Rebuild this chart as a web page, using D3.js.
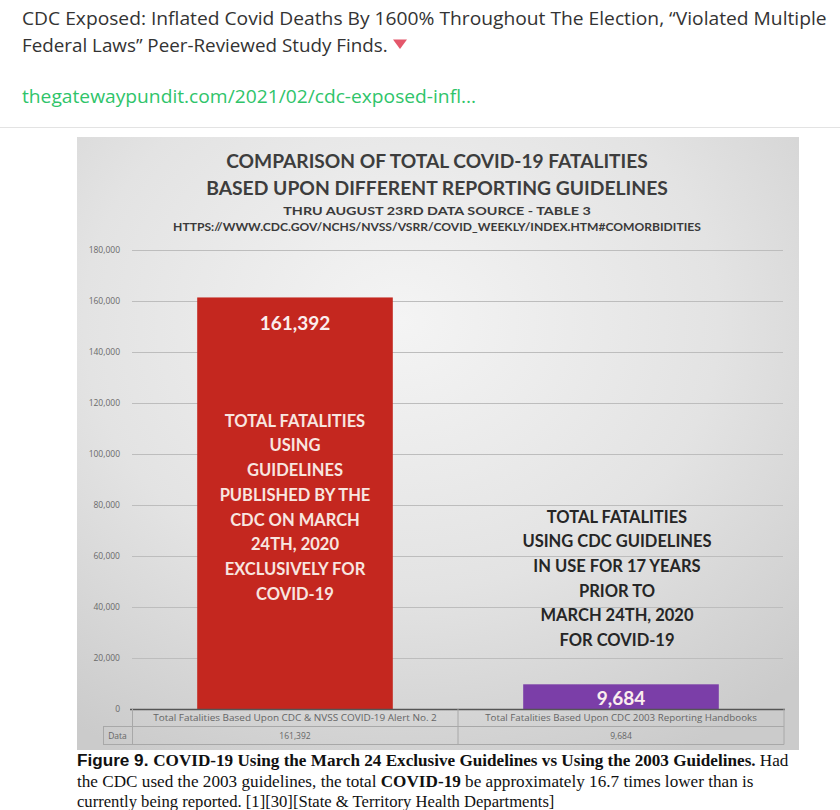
<!DOCTYPE html>
<html><head><meta charset="utf-8">
<script src="https://cdn.jsdelivr.net/npm/d3@7"></script>
<style>
html,body{margin:0;padding:0;background:#fff;}
svg{display:block;}
</style></head>
<body>
<svg id="c" width="840" height="810"></svg>
<script>
// ---- data ----
const postTitle = ["CDC Exposed: Inflated Covid Deaths By 1600% Throughout The Election, \u201CViolated Multiple", "Federal Laws\u201D Peer-Reviewed Study Finds."];
const postLink = "thegatewaypundit.com/2021/02/cdc-exposed-infl...";
const chartTitle = ["COMPARISON OF TOTAL COVID-19 FATALITIES", "BASED UPON DIFFERENT REPORTING GUIDELINES"];
const chartSub = ["THRU AUGUST 23RD DATA SOURCE - TABLE 3", "HTTPS://WWW.CDC.GOV/NCHS/NVSS/VSRR/COVID_WEEKLY/INDEX.HTM#COMORBIDITIES"];
const categories = ["Total Fatalities Based Upon CDC & NVSS COVID-19 Alert No. 2", "Total Fatalities Based Upon CDC 2003 Reporting Handbooks"];
const values = [161392, 9684];
const valueLabels = ["161,392", "9,684"];
const yTicks = [0, 20000, 40000, 60000, 80000, 100000, 120000, 140000, 160000, 180000];
const barColors = ["#c4271f", "#7b3ea8"];
const redNote = ["TOTAL FATALITIES", "USING", "GUIDELINES", "PUBLISHED BY THE", "CDC ON MARCH", "24TH, 2020", "EXCLUSIVELY FOR", "COVID-19"];
const purpleNote = ["TOTAL FATALITIES", "USING CDC GUIDELINES", "IN USE FOR 17 YEARS", "PRIOR TO", "MARCH 24TH, 2020", "FOR COVID-19"];
const tableRowLabel = "Data";

const svg = d3.select("#c");

function fit(sel, width, anchorX) {
  const w = sel.node().getComputedTextLength();
  if (w > 0) {
    const k = width / w;
    sel.attr("transform", `translate(${anchorX},0) scale(${k},1) translate(${-anchorX},0)`);
  }
}

// ---- post header ----
const h1 = svg.append("text").attr("x", 22).attr("y", 25)
  .attr("font-family", "Open Sans").attr("font-size", 17.5).attr("fill", "#333").text(postTitle[0]);
fit(h1, 805, 22);
const h2 = svg.append("text").attr("x", 22).attr("y", 52)
  .attr("font-family", "Open Sans").attr("font-size", 17.5).attr("fill", "#333").text(postTitle[1]);
fit(h2, 366, 22);
svg.append("path").attr("d", "M393,39.5 L407,39.5 L400,49 Z").attr("fill", "#e4576b");
const lk = svg.append("text").attr("x", 22).attr("y", 103)
  .attr("font-family", "Open Sans").attr("font-size", 17.5).attr("fill", "#2fc46a").text(postLink);
fit(lk, 454, 22);
svg.append("line").attr("x1", 0).attr("x2", 840).attr("y1", 127.5).attr("y2", 127.5)
  .attr("stroke", "#e3e3e3");

// ---- chart image background ----
const defs = svg.append("defs");
const rg = defs.append("radialGradient").attr("id", "bg").attr("cx", "45%").attr("cy", "30%").attr("r", "80%");
rg.append("stop").attr("offset", "0%").attr("stop-color", "#f4f4f4");
rg.append("stop").attr("offset", "55%").attr("stop-color", "#e3e3e3");
rg.append("stop").attr("offset", "100%").attr("stop-color", "#cbcbcb");
svg.append("rect").attr("x", 77).attr("y", 137).attr("width", 722).attr("height", 613).attr("fill", "url(#bg)");

// titles
const tf = "Lato";
[[chartTitle[0], 168, 422, 19], [chartTitle[1], 195, 462, 19]].forEach(([t, y, w, fs]) => {
  const s = svg.append("text").attr("x", 437).attr("y", y).attr("text-anchor", "middle")
    .attr("font-family", tf).attr("font-size", fs).attr("font-weight", 700).attr("fill", "#3d3d3d").text(t);
  fit(s, w, 437);
});
[[chartSub[0], 215, 308, 10.5], [chartSub[1], 231, 528, 10.5]].forEach(([t, y, w, fs]) => {
  const s = svg.append("text").attr("x", 437).attr("y", y).attr("text-anchor", "middle")
    .attr("font-family", tf).attr("font-size", fs).attr("font-weight", 700).attr("fill", "#3a3a3a").text(t);
  fit(s, w, 437);
});

// ---- scales ----
const plotL = 132, plotR = 784, plotTop = 250, plotBot = 709;
const y = d3.scaleLinear().domain([0, 180000]).range([plotBot, plotTop]);
const x = d3.scaleBand().domain(categories).range([plotL, plotR]).paddingInner(0.4).paddingOuter(0.2);

// gridlines + tick labels
const ax = svg.append("g").attr("transform", `translate(${plotL},0)`)
  .call(d3.axisLeft(y).tickValues(yTicks).tickFormat(d3.format(",")).tickSizeInner(-(plotR - plotL - 1)).tickSizeOuter(0).tickPadding(12));
ax.select(".domain").remove();
ax.selectAll(".tick line").attr("stroke", "#bdbdbd").attr("stroke-width", 1);
ax.selectAll(".tick text").attr("font-family", "Open Sans").attr("font-size", 8.5).attr("fill", "#6a6a6a");

// bars
svg.append("g").selectAll("rect").data(values).join("rect")
  .attr("x", (d, i) => x(categories[i]))
  .attr("width", x.bandwidth())
  .attr("y", d => y(d))
  .attr("height", d => y(0) - y(d))
  .attr("fill", (d, i) => barColors[i]);

// value labels
svg.append("g").selectAll("text").data(values).join("text")
  .attr("x", (d, i) => x(categories[i]) + x.bandwidth() / 2)
  .attr("y", (d, i) => i === 0 ? y(d) + 33 : y(d) + 21)
  .attr("text-anchor", "middle")
  .attr("font-family", tf).attr("font-weight", 700).attr("font-size", 19).attr("fill", "#fbeeee")
  .text((d, i) => valueLabels[i]);

// notes
const cx0 = x(categories[0]) + x.bandwidth() / 2;
const cx1 = x(categories[1]) + x.bandwidth() / 2 - 4;
svg.append("g").selectAll("text").data(redNote).join("text")
  .attr("x", cx0).attr("y", (d, i) => y(110700) + i * 24.7)
  .attr("text-anchor", "middle").attr("font-family", tf).attr("font-weight", 700)
  .attr("font-size", 16.5).attr("fill", "#f8e6e0").text(d => d);
svg.append("g").selectAll("text").data(purpleNote).join("text")
  .attr("x", cx1).attr("y", (d, i) => y(73000) + i * 24.6)
  .attr("text-anchor", "middle").attr("font-family", tf).attr("font-weight", 700)
  .attr("font-size", 16.5).attr("fill", "#262626").text(d => d);

// zero axis
svg.append("line").attr("x1", plotL - 2).attr("x2", plotR + 1).attr("y1", y(0) + 0.5).attr("y2", y(0) + 0.5)
  .attr("stroke", "#555").attr("stroke-width", 1.3);

// data table
const rowA = plotBot, rowB = 726.5, rowC = 744.5, dataL = 103;
const tg = svg.append("g").attr("stroke", "#a8a8a8").attr("stroke-width", 1);
tg.append("line").attr("x1", dataL).attr("x2", plotR).attr("y1", rowB).attr("y2", rowB);
tg.append("line").attr("x1", dataL).attr("x2", plotR).attr("y1", rowC).attr("y2", rowC);
[plotL + 0.5, x(categories[1]) - x.step() * x.paddingInner() / 2, plotR].forEach(xx => {
  tg.append("line").attr("x1", xx).attr("x2", xx).attr("y1", rowA).attr("y2", rowC);
});
tg.append("line").attr("x1", dataL + 0.5).attr("x2", dataL + 0.5).attr("y1", rowB).attr("y2", rowC);
categories.forEach((c, i) => {
  const cx = x(c) + x.bandwidth() / 2;
  const t = svg.append("text").attr("x", cx).attr("y", 721).attr("text-anchor", "middle")
    .attr("font-family", "Open Sans").attr("font-size", 8.5).attr("fill", "#666").text(c);
  fit(t, i === 0 ? 284 : 272, cx);
  svg.append("text").attr("x", cx).attr("y", 739).attr("text-anchor", "middle")
    .attr("font-family", "Open Sans").attr("font-size", 8.5).attr("fill", "#666").text(valueLabels[i]);
});
svg.append("text").attr("x", (dataL + plotL) / 2).attr("y", 739).attr("text-anchor", "middle")
  .attr("font-family", "Open Sans").attr("font-size", 8.5).attr("fill", "#666").text(tableRowLabel);

// ---- caption ----
const cap1 = svg.append("text").attr("x", 77).attr("y", 766).attr("font-size", 17).attr("fill", "#111");
cap1.append("tspan").attr("font-family", "Liberation Sans").attr("font-weight", 700).text("Figure 9. ");
cap1.append("tspan").attr("font-family", "Liberation Serif").attr("font-weight", 700).text("COVID-19 Using the March 24 Exclusive Guidelines vs Using the 2003 Guidelines.");
cap1.append("tspan").attr("font-family", "Liberation Serif").text(" Had");
fit(cap1, 712, 77);
const cap2 = svg.append("text").attr("x", 77).attr("y", 787).attr("font-size", 17).attr("fill", "#111")
  .attr("font-family", "Liberation Serif");
cap2.append("tspan").text("the CDC used the 2003 guidelines, the total ");
cap2.append("tspan").attr("font-weight", 700).text("COVID-19");
cap2.append("tspan").text(" be approximately 16.7 times lower than is");
fit(cap2, 677, 77);
const cap3 = svg.append("text").attr("x", 77).attr("y", 807).attr("font-size", 17).attr("fill", "#111")
  .attr("font-family", "Liberation Serif").text("currently being reported. [1][30][State & Territory Health Departments]");
fit(cap3, 478, 77);
</script>
</body></html>
